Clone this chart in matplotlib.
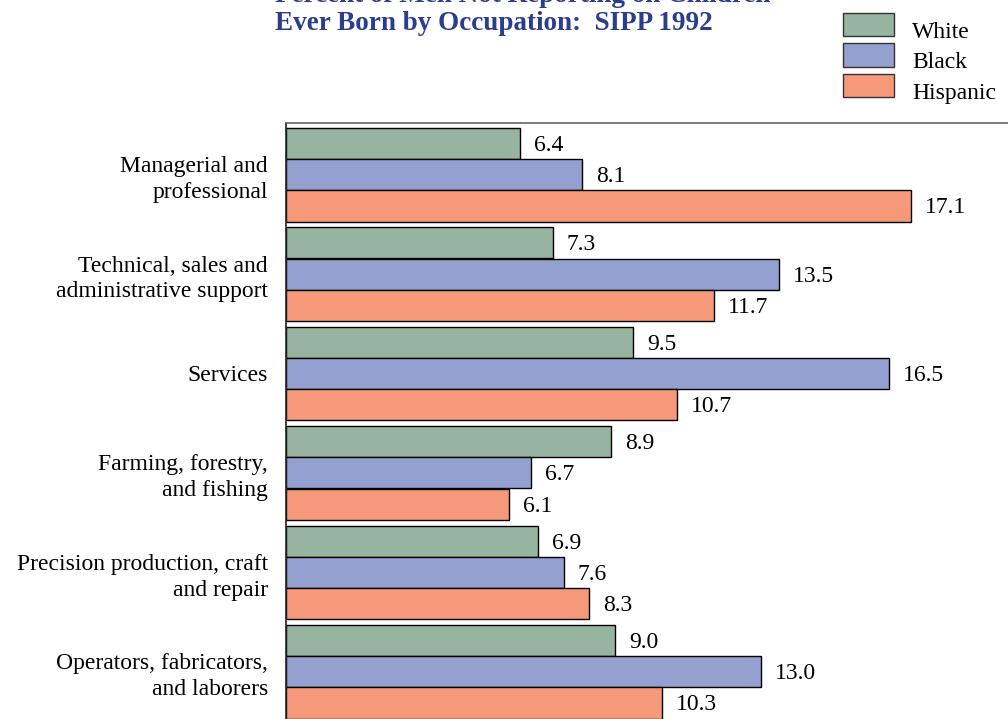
import numpy as np
import matplotlib.pyplot as plt

occupations = ['Managerial and\nprofessional',
               'Technical, sales and\nadministrative support',
               'Services',
               'Farming, forestry,\nand fishing',
               'Precision production, craft\nand repair',
               'Operators, fabricators,\nand laborers']
white = [6.4, 7.3, 9.5, 8.9, 6.9, 9.0]
black = [8.1, 13.5, 16.5, 6.7, 7.6, 13.0]
hispanic = [17.1, 11.7, 10.7, 6.1, 8.3, 10.3]
series_names = ['White', 'Black', 'Hispanic']
colors = ['#97b4a0', '#94a0d0', '#f6987a']
title_lines = ['Percent of Men Not Reporting on Children',
               'Ever Born by Occupation:  SIPP 1992']

plt.rcParams['font.family'] = ['Liberation Serif', 'DejaVu Serif']

W, H = 1008, 719
fig = plt.figure(figsize=(W / 100, H / 100), dpi=100)

# axes runs off the right and bottom of the picture
left, top, right, bottom = 286, 123, 1030, 719
ax = fig.add_axes([left / W, 1 - bottom / H, (right - left) / W, (bottom - top) / H])
px_per_unit = 36.55
pitch = 99.4
ax.set_xlim(0, (right - left) / px_per_unit)
ax.set_ylim((bottom - top) / pitch, 0)

h = 0.313
y0 = np.arange(len(occupations)) + 0.05
for k, (vals, c) in enumerate(zip([white, black, hispanic], colors)):
    ys = y0 + k * (h + 0.001)
    ax.barh(ys, vals, height=h, align='edge', color=c, edgecolor='black',
            linewidth=1, label=series_names[k])
    for y, v in zip(ys, vals):
        ax.text(v + 0.38, y + h / 2 + 0.02, '{:.1f}'.format(v), va='center', ha='left',
                fontsize=17)

ax.set_yticks(y0 + 1.5 * h)
ax.set_yticklabels(occupations, fontsize=17, linespacing=1.3)
ax.tick_params(axis='y', length=0, pad=13)
ax.set_xticks([])
for s in ['right', 'bottom']:
    ax.spines[s].set_visible(False)
ax.spines['top'].set_color('#666666')
ax.spines['top'].set_linewidth(1.2)
ax.spines['left'].set_color('#222222')
ax.spines['left'].set_linewidth(1.2)

# title, first line is cut by the picture edge
for i, line in enumerate(title_lines):
    fig.text(275 / W, 1 - (2 + 28 * i) / H, line, fontsize=19.5, fontweight='bold',
             color='#2a3d8f', va='baseline', ha='left')

# legend drawn by hand to match the boxes
for k, (name, c) in enumerate(zip(series_names, colors)):
    ytop = 13 + k * 30.5
    fig.patches.append(plt.Rectangle((843 / W, 1 - (ytop + 23) / H), 51 / W, 23 / H,
                                     transform=fig.transFigure, facecolor=c,
                                     edgecolor='#333333', linewidth=1))
    fig.text(912 / W, 1 - (ytop + 25) / H, name, fontsize=17, va='baseline', ha='left')

fig.savefig('out.png', dpi=100)
